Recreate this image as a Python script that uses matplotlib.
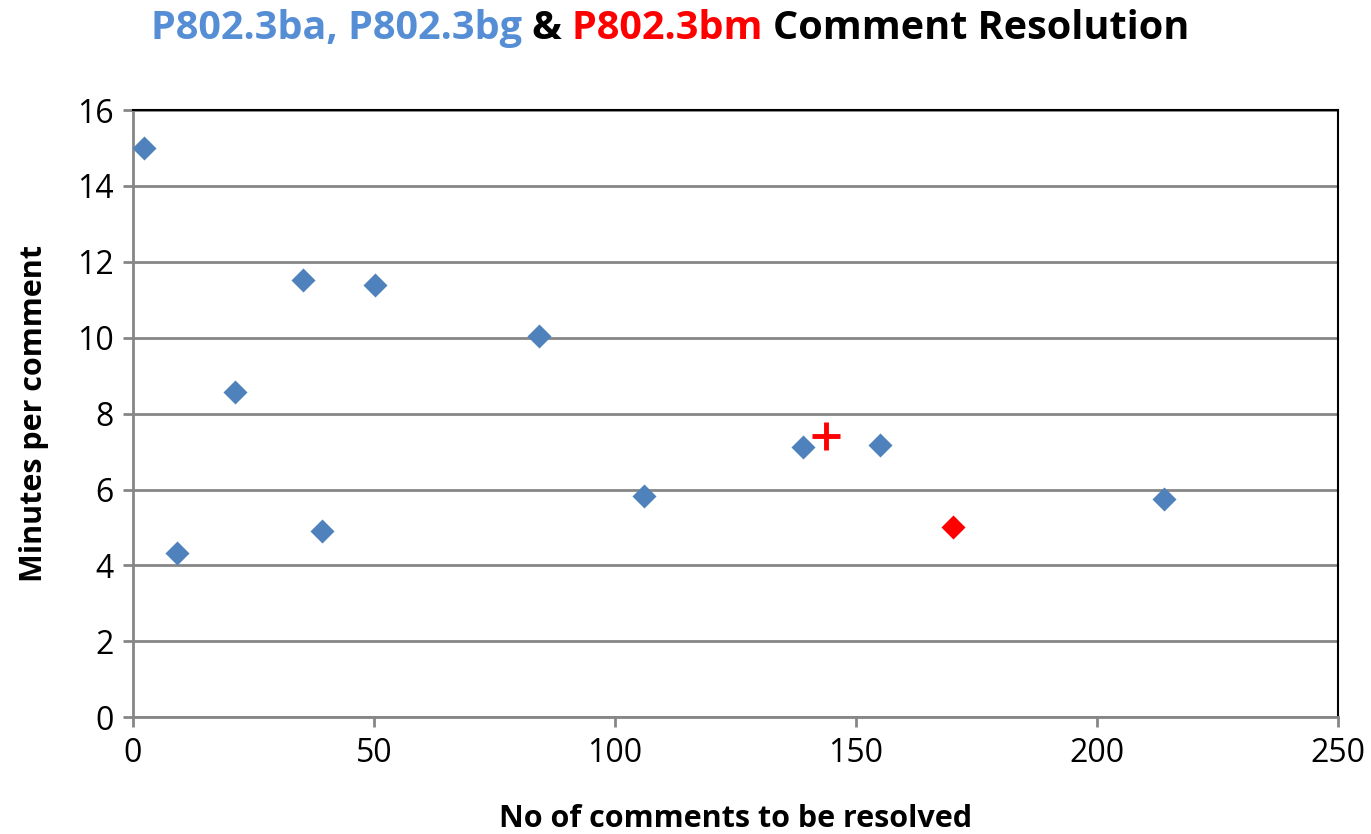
import matplotlib
matplotlib.use("Agg")
import matplotlib.pyplot as plt

# data
ba_bg_comments = [2.3, 9.1, 21.2, 35.3, 39.2, 50.2, 84.2, 106.0, 139.0, 155.0, 213.9]
ba_bg_minutes = [15.0, 4.32, 8.57, 11.52, 4.90, 11.38, 10.04, 5.82, 7.12, 7.17, 5.75]
bm_comments = [170.1]
bm_minutes = [5.01]
bm_est_comments = [143.8]
bm_est_minutes = [7.41]

xticks = [0, 50, 100, 150, 200, 250]
yticks = [0, 2, 4, 6, 8, 10, 12, 14, 16]

blue = "#4F81BD"
title_blue = "#558ED5"
red = "#FF0000"
grey = "#868686"
fontsize = 23
plt.rcParams['font.family'] = ['Open Sans', 'DejaVu Sans']

fig = plt.figure(figsize=(13.71, 8.34), dpi=100)
ax = fig.add_axes([0.097, 0.140, 0.879, 0.728])

ax.scatter(ba_bg_comments, ba_bg_minutes, marker="D", s=150, color=blue, zorder=3, linewidths=0)
ax.scatter(bm_comments, bm_minutes, marker="D", s=150, color=red, zorder=3, linewidths=0)
ax.plot(bm_est_comments, bm_est_minutes, marker="+", ms=20, mew=3.5, color=red, ls="none", zorder=3)

ax.set_xlim(0, 250)
ax.set_ylim(0, 16)
ax.set_xticks(xticks)
ax.set_yticks(yticks)
ax.yaxis.grid(True, color=grey, lw=2)
ax.set_axisbelow(True)
for s in ["left", "bottom"]:
    ax.spines[s].set_color(grey)
    ax.spines[s].set_linewidth(2)
for s in ["top", "right"]:
    ax.spines[s].set_color("black")
    ax.spines[s].set_linewidth(1.5)
ax.tick_params(axis="both", direction="out", length=7, width=2, color=grey, labelsize=fontsize, pad=7)

ax.set_xlabel("No of comments to be resolved", fontsize=22, fontweight="bold", labelpad=25)
ax.set_ylabel("Minutes per comment", fontsize=22, fontweight="bold", labelpad=20)

# multi-coloured title
parts = [("P802.3ba, P802.3bg ", title_blue), ("& ", "black"), ("P802.3bm ", red), ("Comment Resolution", "black")]
fig.canvas.draw()
renderer = fig.canvas.get_renderer()
texts = []
x = 0
for txt, col in parts:
    t = fig.text(x, 0.966, txt, color=col, fontsize=28.5, fontweight="bold", va="center", ha="left")
    bb = t.get_window_extent(renderer)
    x += bb.width / fig.bbox.width
    texts.append(t)
start = 0.4885 - x / 2
pos = start
for t in texts:
    w = t.get_window_extent(renderer).width / fig.bbox.width
    t.set_x(pos)
    pos += w

fig.savefig("out.png", dpi=100)
